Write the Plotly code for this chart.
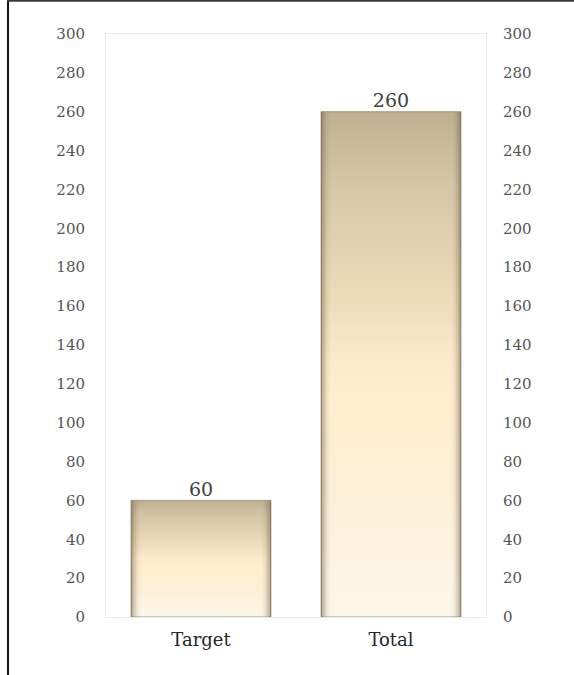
import plotly.graph_objects as go

# Chart data
categories = ["Target", "Total"]
values = [60, 260]
tick_values = list(range(0, 301, 20))

BAR_HALF = 0.368          # half bar width, in category units
SERIF = "DejaVu Serif"

# vertical cream-to-tan fill, bottom (0) to top (1)
body_scale = [
    [0.0, "#fdf6e8"],
    [0.25, "#fdf0d8"],
    [0.45, "#feedcd"],
    [0.51, "#fbeaca"],
    [0.63, "#ecdcb8"],
    [0.85, "#d6c7a7"],
    [1.0, "#bfb092"],
]
# bevelled sides: darker at the left/right edges, clear in the middle
edge_scale = [
    [0.0, "rgba(110,96,72,0.65)"],
    [0.015, "rgba(120,106,82,0.40)"],
    [0.045, "rgba(130,116,92,0.10)"],
    [0.07, "rgba(130,116,92,0.0)"],
    [0.93, "rgba(130,116,92,0.0)"],
    [0.955, "rgba(130,116,92,0.10)"],
    [0.985, "rgba(120,106,82,0.40)"],
    [1.0, "rgba(110,96,72,0.65)"],
]

fig = go.Figure()

for i, (cat, v) in enumerate(zip(categories, values)):
    xs = [i - BAR_HALF, i + BAR_HALF, i + BAR_HALF, i - BAR_HALF, i - BAR_HALF]
    ys = [0, 0, v, v, 0]
    fig.add_trace(go.Scatter(
        x=xs, y=ys, mode="lines", fill="toself",
        line=dict(color="rgba(160,146,118,0.9)", width=1),
        fillgradient=dict(type="vertical", colorscale=body_scale),
        hoverinfo="skip", showlegend=False,
    ))
    fig.add_trace(go.Scatter(
        x=xs, y=ys, mode="lines", fill="toself",
        line=dict(color="rgba(0,0,0,0)", width=0),
        fillgradient=dict(type="horizontal", colorscale=edge_scale),
        hoverinfo="skip", showlegend=False,
    ))

# value labels above the bars (on the right-hand axis, which mirrors the left)
fig.add_trace(go.Scatter(
    x=list(range(len(categories))), y=values,
    mode="text", text=[str(v) for v in values],
    textposition="top center",
    textfont=dict(family=SERIF, size=19, color="#3f3f3f"),
    yaxis="y2", hoverinfo="skip", showlegend=False,
))

tick_font = dict(family=SERIF, size=15, color="#555555")

fig.update_layout(
    width=574, height=675,
    margin=dict(l=106, r=88, t=34, b=58),
    paper_bgcolor="white", plot_bgcolor="white",
    xaxis=dict(
        range=[-0.5, len(categories) - 0.5],
        tickvals=list(range(len(categories))), ticktext=categories,
        tickfont=dict(family=SERIF, size=18, color="#262626"),
        showgrid=False, zeroline=False, ticks="",
        showline=True, mirror=True, linecolor="#ebebeb", linewidth=1,
        ticklabelstandoff=6, fixedrange=True,
    ),
    yaxis=dict(
        range=[0, 300], tickvals=tick_values, tickfont=tick_font,
        showgrid=False, zeroline=False, ticks="",
        showline=True, mirror=True, linecolor="#ebebeb", linewidth=1,
        ticklabelstandoff=17, fixedrange=True,
    ),
    yaxis2=dict(
        range=[0, 300], tickvals=tick_values, tickfont=tick_font,
        overlaying="y", side="right", matches="y",
        showgrid=False, zeroline=False, ticks="", showline=False,
        ticklabelstandoff=16, fixedrange=True,
    ),
    shapes=[
        # outer frame: left and top edges
        dict(type="line", xref="paper", yref="paper",
             x0=(8 - 106) / 380, x1=(8 - 106) / 380,
             y0=(617 - 0) / 583, y1=(617 - 676) / 583,
             line=dict(color="#111111", width=2)),
        dict(type="line", xref="paper", yref="paper",
             x0=(7 - 106) / 380, x1=(575 - 106) / 380,
             y0=(617 - 0.8) / 583, y1=(617 - 0.8) / 583,
             line=dict(color="#3a3a3a", width=2)),
    ],
)

fig.write_html("out.html")
